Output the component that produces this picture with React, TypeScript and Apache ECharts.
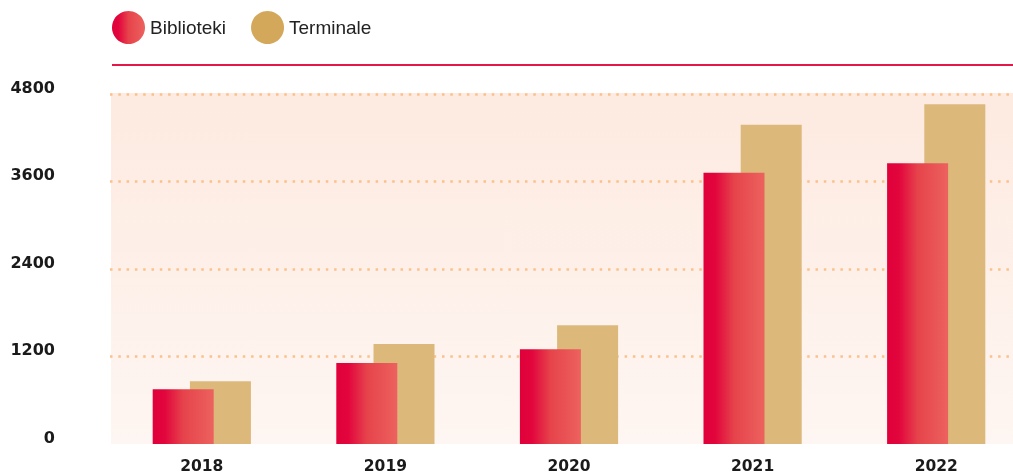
import React, { useEffect, useRef } from "react";
import * as echarts from "echarts";

const categories = ["2018", "2019", "2020", "2021", "2022"];
const biblioteki = [750, 1110, 1300, 3720, 3850];
const terminale = [860, 1370, 1630, 4380, 4660];
const yTicks = [0, 1200, 2400, 3600, 4800];

export default function App() {
  const ref = useRef<HTMLDivElement>(null);
  useEffect(() => {
    if (!ref.current) return;
    const chart = echarts.init(ref.current, null, { renderer: "svg" });
    const redGrad = new echarts.graphic.LinearGradient(0, 0, 1, 0, [
      { offset: 0, color: "#e0003a" },
      { offset: 0.2, color: "#e2063d" },
      { offset: 0.5, color: "#e6434b" },
      { offset: 1, color: "#ec625e" },
    ]);
    const bgGrad = new echarts.graphic.LinearGradient(0, 0, 0, 1, [
      { offset: 0, color: "#fdeae0" },
      { offset: 1, color: "#fef6f2" },
    ]);
    chart.setOption({
      animation: false,
      grid: {
        left: 110,
        right: 0,
        top: 94,
        bottom: 31,
        show: false,
      },
      legend: {
        left: 107,
        top: 6,
        itemWidth: 33,
        itemHeight: 33,
        itemGap: 25,
        icon: "circle",
        textStyle: { fontFamily: "Liberation Sans", fontSize: 19, color: "#222" },
        data: [
          { name: "Biblioteki" },
          { name: "Terminale", itemStyle: { color: "#d4a85a" } },
        ],
      },
      graphic: {
        z: -10,
        elements: [
          {
            type: "rect",
            z: -10,
            shape: { x: 111, y: 93, width: 917, height: 351 },
            style: { fill: bgGrad },
          },
          {
            type: "rect",
            shape: { x: 112, y: 64, width: 916, height: 2 },
            style: { fill: "#e4174a" },
          },
        ],
      },
      xAxis: {
        type: "category",
        data: categories,
        axisLine: { show: false },
        axisTick: { show: false },
        axisLabel: {
          margin: 14,
          fontFamily: "DejaVu Sans",
          fontWeight: "bold",
          fontSize: 15.5,
          color: "#1a1a1a",
        },
      },
      yAxis: {
        type: "value",
        min: yTicks[0],
        max: yTicks[yTicks.length - 1],
        interval: 1200,
        axisLine: { show: false },
        axisTick: { show: false },
        axisLabel: {
          margin: 55,
          fontFamily: "DejaVu Sans",
          fontWeight: "bold",
          fontSize: 16,
          color: "#1a1a1a",
          verticalAlign: "bottom",
          lineHeight: 14,
          formatter: (v: number) => String(v),
        },
        splitLine: {
          show: true,
          showMinLine: false,
          lineStyle: { color: "#fcc08a", width: 2.5, type: [2.5, 5.8] },
        },
      },
      series: [
        {
          name: "Biblioteki",
          type: "bar",
          data: biblioteki,
          barWidth: 61,
          barGap: "-39%",
          z: 3,
          itemStyle: { color: redGrad },
        },
        {
          name: "Terminale",
          type: "bar",
          data: terminale,
          barWidth: 61,
          barGap: "-39%",
          z: 2,
          itemStyle: { color: "#dcb87b" },
        },
      ],
    });
    return () => chart.dispose();
  }, []);
  return (
    <div
      ref={ref}
      style={{ position: "fixed", left: 0, top: 0, width: 1028, height: 475 }}
    />
  );
}
